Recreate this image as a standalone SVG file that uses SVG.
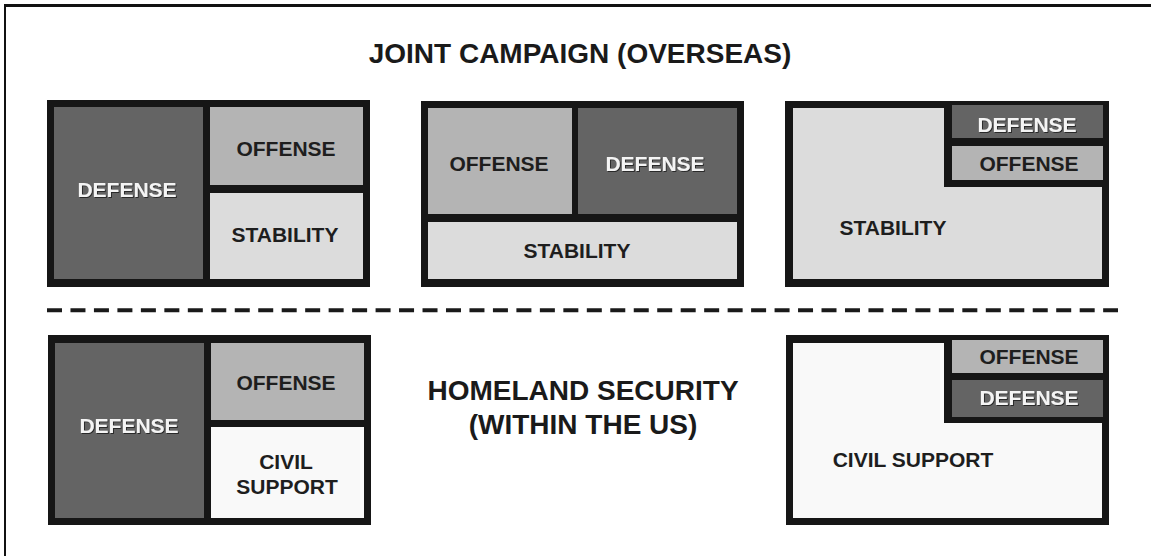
<svg xmlns="http://www.w3.org/2000/svg" width="1151" height="556" viewBox="0 0 1151 556">
<defs>
<style>
.frame{stroke:#111;fill:none}
.box{fill:#161616}
.def{fill:#646464}
.off{fill:#b4b4b4}
.stab{fill:#dcdcdc}
.civ{fill:#f9f9f9}
.lbl{font-family:"Liberation Sans",Arial,sans-serif;font-weight:bold;font-size:21px;text-anchor:middle;fill:#1e1e1e}
.lbl.w{fill:#f4f4f4;filter:url(#sh)}
.head{font-family:"Liberation Sans",Arial,sans-serif;font-weight:bold;font-size:28px;text-anchor:middle;fill:#1a1a1a}
.dash{stroke:#1a1a1a;stroke-width:4;stroke-dasharray:15 8.47;fill:none}
</style>
<filter id="sh" x="-10%" y="-30%" width="130%" height="160%">
<feDropShadow dx="1" dy="1" stdDeviation="0.6" flood-color="#222" flood-opacity="0.85"/>
</filter>
</defs>
<rect width="1151" height="556" fill="#ffffff"/>
<line class="frame" x1="4" y1="5.5" x2="1151" y2="5.5" stroke-width="3"/>
<line class="frame" x1="5" y1="4" x2="5" y2="556" stroke-width="2"/>
<text class="head" x="580" y="63">JOINT CAMPAIGN (OVERSEAS)</text>
<g id="connectors">
<line class="dash" x1="47" y1="310.3" x2="1118" y2="310.3"/>
</g>
<g id="box1">
<rect class="box" x="47" y="100" width="323" height="187"/>
<rect class="def" x="54" y="107" width="149" height="172"/>
<rect class="off" x="210" y="107" width="153" height="78"/>
<rect class="stab" x="210" y="193" width="153" height="86"/>
<text class="lbl w" x="127" y="197">DEFENSE</text>
<text class="lbl" x="286" y="156">OFFENSE</text>
<text class="lbl" x="285" y="242">STABILITY</text>
</g>
<g id="box2">
<rect class="box" x="421" y="101" width="323" height="186"/>
<rect class="off" x="428" y="108" width="144" height="106"/>
<rect class="def" x="578" y="108" width="159" height="106"/>
<rect class="stab" x="428" y="222" width="309" height="57"/>
<text class="lbl" x="499" y="171">OFFENSE</text>
<text class="lbl w" x="655" y="171">DEFENSE</text>
<text class="lbl" x="577" y="258">STABILITY</text>
</g>
<g id="box3">
<rect class="box" x="785" y="101" width="324" height="186"/>
<polygon class="stab" points="793,108 944,108 944,187 1102,187 1102,279 793,279"/>
<rect class="def" x="952" y="105" width="151" height="33"/>
<rect class="off" x="952" y="146" width="151" height="34"/>
<text class="lbl w" x="1027" y="132">DEFENSE</text>
<text class="lbl" x="1029" y="171">OFFENSE</text>
<text class="lbl" x="893" y="235">STABILITY</text>
</g>
<g id="box4">
<rect class="box" x="48" y="335" width="323" height="190"/>
<rect class="def" x="55" y="343" width="149" height="175"/>
<rect class="off" x="211" y="343" width="153" height="77"/>
<rect class="civ" x="211" y="427" width="153" height="91"/>
<text class="lbl w" x="129" y="433">DEFENSE</text>
<text class="lbl" x="286" y="390">OFFENSE</text>
<text class="lbl" x="286" y="469">CIVIL</text>
<text class="lbl" x="287" y="494">SUPPORT</text>
</g>
<g id="homeland">
<text class="head" x="583" y="400">HOMELAND SECURITY</text>
<text class="head" x="583" y="434">(WITHIN THE US)</text>
</g>
<g id="box5">
<rect class="box" x="786" y="335" width="323" height="190"/>
<polygon class="civ" points="793,343 944,343 944,423 1102,423 1102,518 793,518"/>
<rect class="off" x="952" y="340" width="151" height="33"/>
<rect class="def" x="952" y="380" width="151" height="37"/>
<text class="lbl" x="1029" y="364">OFFENSE</text>
<text class="lbl w" x="1029" y="405">DEFENSE</text>
<text class="lbl" x="913" y="467">CIVIL SUPPORT</text>
</g>
</svg>
